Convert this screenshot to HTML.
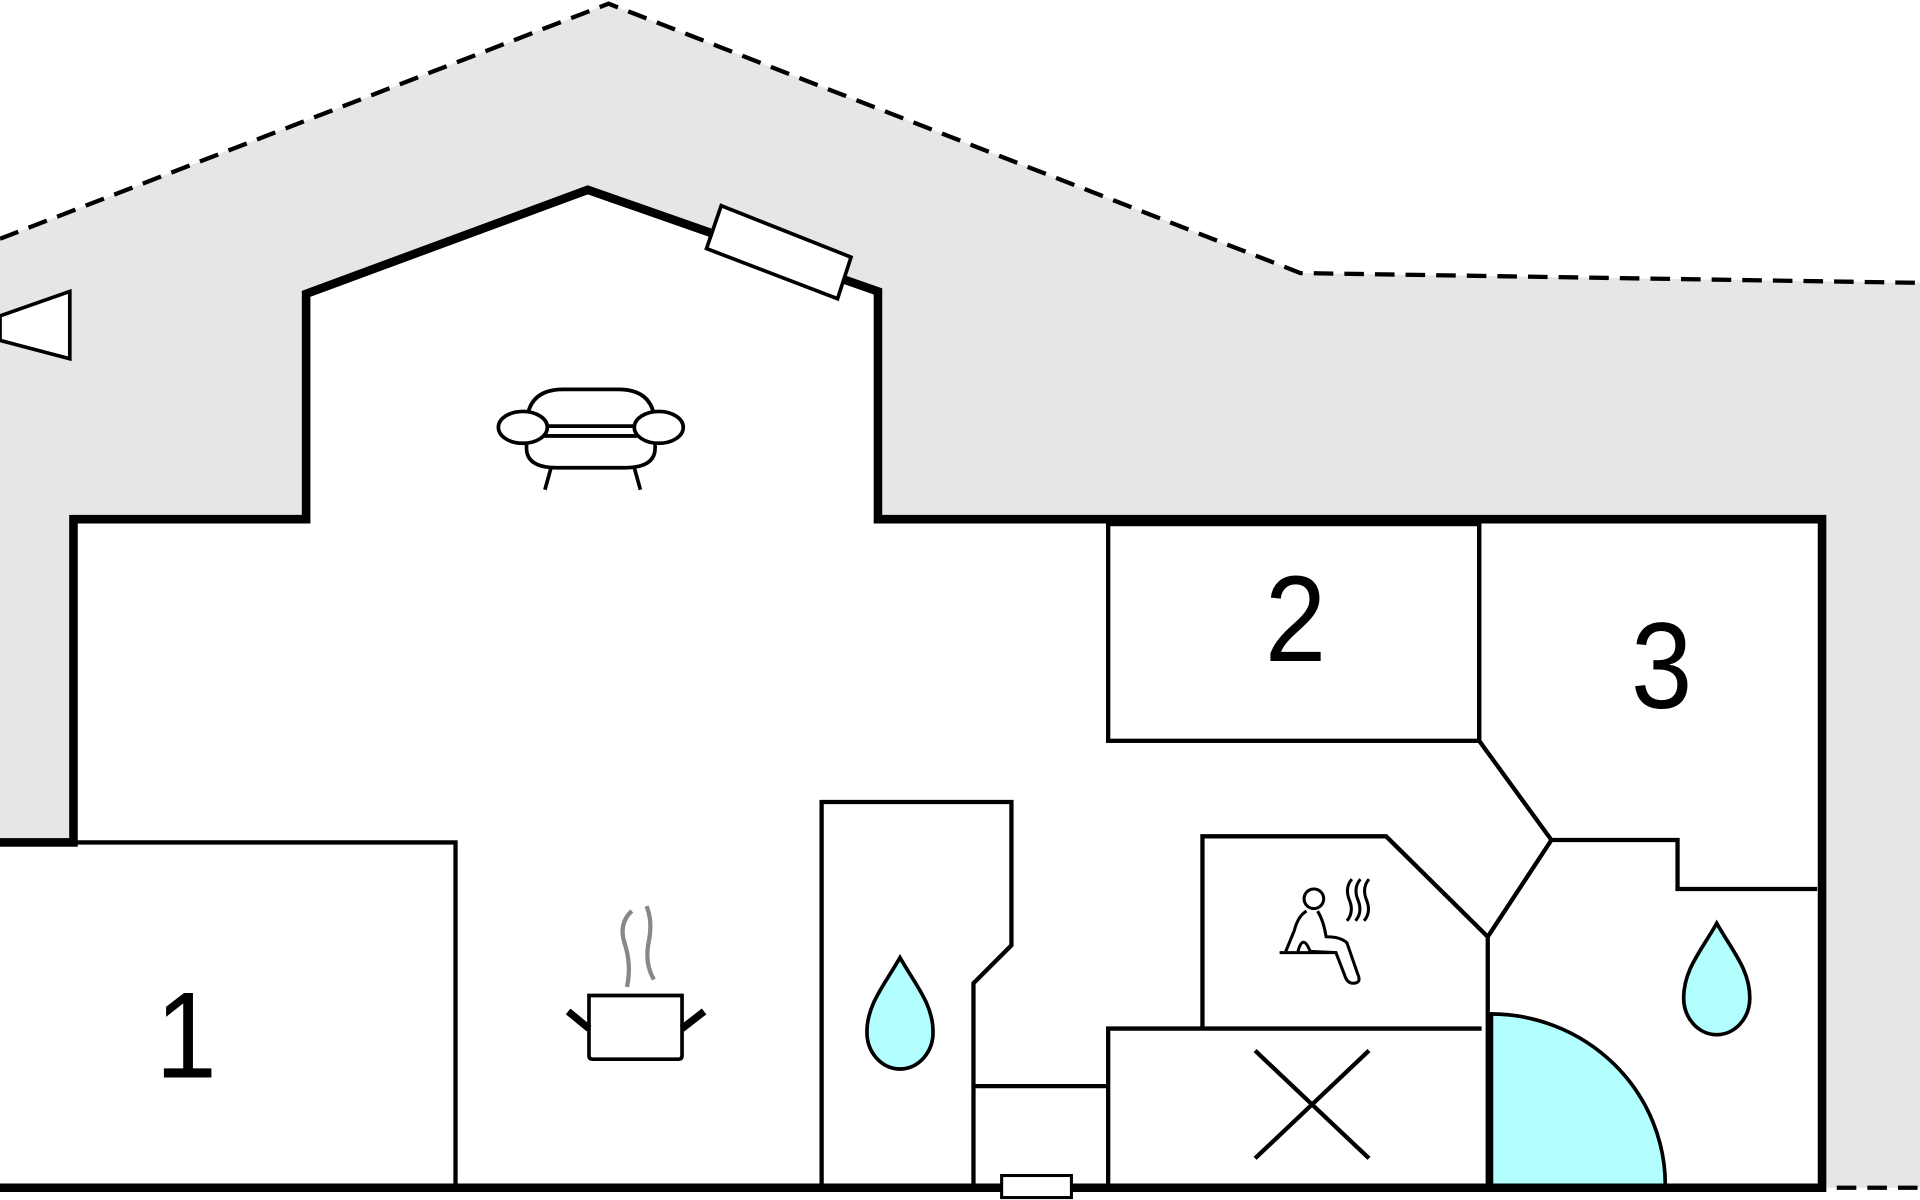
<!DOCTYPE html>
<html><head><meta charset="utf-8"><style>
html,body{margin:0;padding:0;background:#fff;width:1920px;height:1200px;overflow:hidden}
svg{display:block}
</style></head><body>
<svg width="1920" height="1200" viewBox="0 0 1568 980" preserveAspectRatio="none" xmlns="http://www.w3.org/2000/svg">
<rect width="1568" height="980" fill="#fff"/>
<polygon points="0,195 497,3 1062,223 1568,231 1568,970 1490,970 1490,424 60,424 60,688 0,688" fill="#e6e6e6"/>
<polyline points="0,195 497,3 1062,223 1568,231" fill="none" stroke="#000" stroke-width="3.5" stroke-dasharray="16,9"/>
<line x1="1500" y1="970" x2="1568" y2="970" stroke="#000" stroke-width="3.5" stroke-dasharray="16,9"/>
<polygon points="0,688 60,688 60,424 250,424 250,240 480,155 717,238 717,424 1488,424 1488,970 0,970" fill="#fff"/>
<polyline points="0,688 60,688 60,424 250,424 250,240 480,155 717,238 717,424 1488,424 1488,970 0,970" fill="none" stroke="#000" stroke-width="7"/>
<polygon points="589,168 695,210 684,244 577,203" fill="#fff" stroke="#000" stroke-width="3"/>
<polygon points="0,258 57,238 57,293 0,278" fill="#fff" stroke="#000" stroke-width="3"/>
<g fill="none" stroke="#000" stroke-width="3.5">
<polyline points="0,688 372,688 372,968"/>
<rect x="905" y="428" width="303" height="177"/>
<polyline points="1208,428 1208,605 1267,686 1370,686 1370,726 1484,726"/>
<polyline points="1267,686 1215,765 1132,683 982,683 982,840"/>
<line x1="1215" y1="765" x2="1215" y2="968"/>
<polyline points="905,968 905,840 1210,840"/>
<line x1="1025" y1="858" x2="1118" y2="946"/>
<line x1="1118" y1="858" x2="1025" y2="946"/>
<polyline points="671,968 671,655 826,655 826,772 795,803 795,968"/>
<line x1="795" y1="887" x2="905" y2="887"/>
</g>
<rect x="818" y="960" width="57" height="18" fill="#fff" stroke="#000" stroke-width="2.5"/>
<path d="M1217,968 L1217,828 A143,140 0 0 1 1360,968 Z" fill="#b3ffff" stroke="#000" stroke-width="3"/>
<line x1="1217" y1="828" x2="1217" y2="968" stroke="#000" stroke-width="5"/>
<path d="M735,782 C722,805 708,820 708,843 A27,30 0 0 0 762,843 C762,820 748,805 735,782 Z" fill="#b3ffff" stroke="#000" stroke-width="3"/>
<path d="M1402,754 C1389,777 1375,792 1375,815 A27,30 0 0 0 1429,815 C1429,792 1415,777 1402,754 Z" fill="#b3ffff" stroke="#000" stroke-width="3"/>
<g font-family="Liberation Sans, sans-serif" font-size="100" text-anchor="middle" fill="#000">
<text x="152" y="880" transform="translate(15.2,0) scale(0.9,1)">1</text>
<text x="1058" y="540" transform="translate(105.8,0) scale(0.9,1)">2</text>
<text x="1357" y="578" transform="translate(135.7,0) scale(0.9,1)">3</text>
</g>
<g fill="#fff" stroke="#000" stroke-width="3">
<path d="M430,348 Q430,318 460,318 L505,318 Q535,318 535,348 Z"/>
<path d="M430,356 L430,366 Q430,382 455,382 L510,382 Q535,382 535,366 L535,356 Z"/>
<line x1="445" y1="356" x2="520" y2="356"/>
<ellipse cx="427" cy="349" rx="20" ry="13"/>
<ellipse cx="538" cy="349" rx="20" ry="13"/>
<line x1="450" y1="382" x2="445" y2="400"/>
<line x1="518" y1="382" x2="523" y2="400"/>
</g>
<g fill="none">
<path d="M516,744 Q505,754 510,770 Q516,788 512,806" stroke="#888" stroke-width="3.5"/>
<path d="M528,740 Q533,752 530,768 Q526,786 534,800" stroke="#888" stroke-width="3.5"/>
<path d="M481,813 L557,813 L557,862 Q557,865 554,865 L484,865 Q481,865 481,862 Z" fill="#fff" stroke="#000" stroke-width="3"/>
<line x1="464" y1="826" x2="481" y2="840" stroke="#000" stroke-width="6"/>
<line x1="575" y1="826" x2="557" y2="840" stroke="#000" stroke-width="6"/>
</g>
<g fill="none" stroke="#000" stroke-width="2.5">
<circle cx="1073" cy="734" r="8"/>
<path d="M1067,744 Q1060,748 1057,760 L1050,777"/>
<path d="M1076,744 Q1081,752 1083,765 Q1095,765 1100,770 L1109,796 Q1112,803 1105,803 Q1100,803 1098,796 L1091,778 L1070,777 Q1064,762 1060,777"/>
<line x1="1045" y1="778" x2="1092" y2="778"/>
<path d="M1104,718 Q1098,725 1102,735 Q1106,745 1100,752"/>
<path d="M1111,718 Q1105,725 1109,735 Q1113,745 1107,752"/>
<path d="M1118,718 Q1112,725 1116,735 Q1120,745 1114,752"/>
</g>
</svg>
</body></html>
